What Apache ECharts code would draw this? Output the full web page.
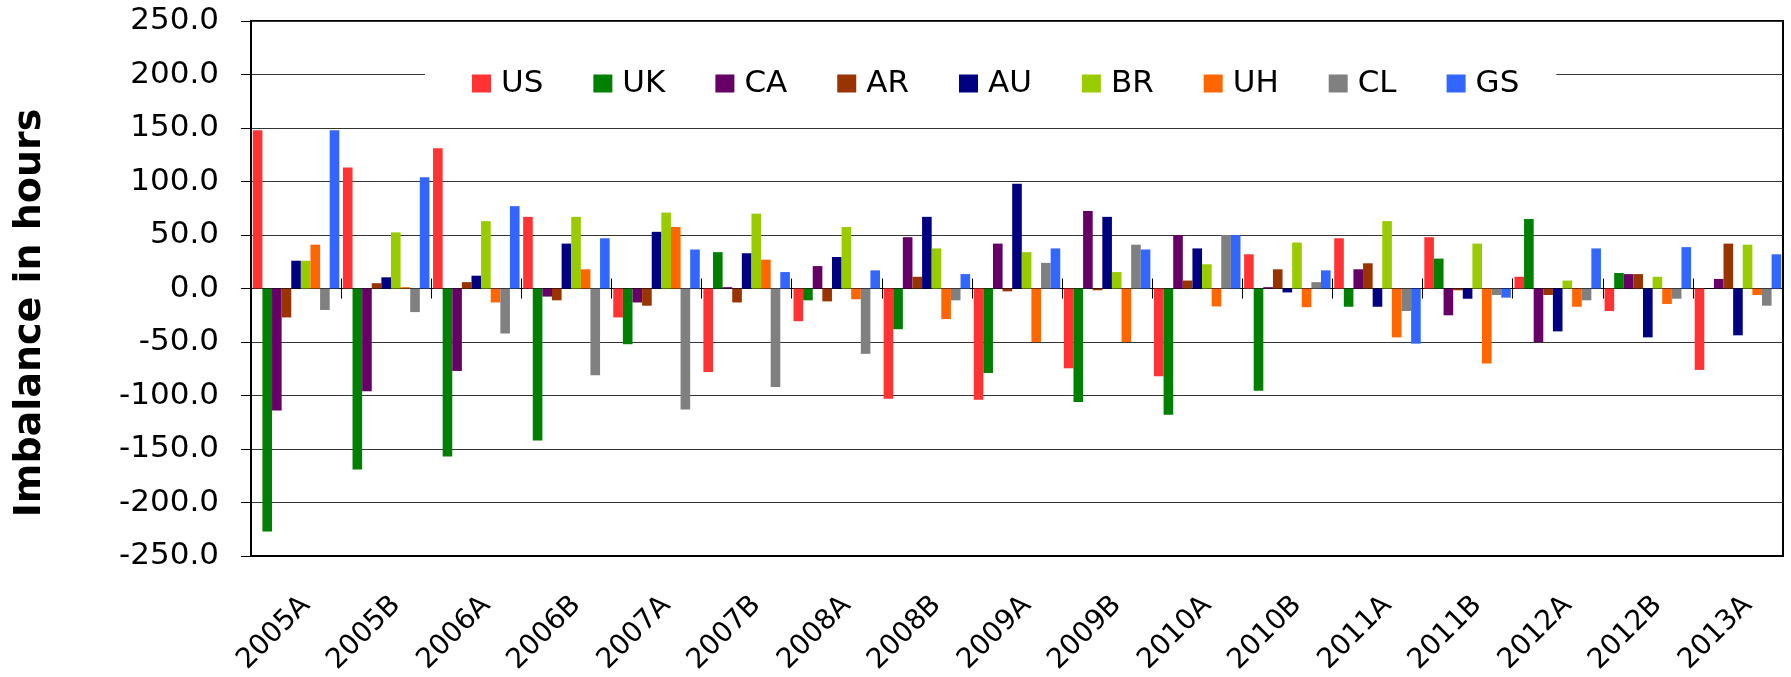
<!DOCTYPE html>
<html>
<head>
<meta charset="utf-8">
<script src="https://cdn.jsdelivr.net/npm/echarts@6/dist/echarts.min.js"></script>
<style>
html,body{margin:0;padding:0;background:#fff;}
#chart{width:1791px;height:677px;}
</style>
</head>
<body>
<div id="chart"></div>
<script>
var categories = ['2005A','2005B','2006A','2006B','2007A','2007B','2008A','2008B','2009A','2009B','2010A','2010B','2011A','2011B','2012A','2012B','2013A'];
var US = [148, 113, 131, 67, -27, -78, -30.5, -103, -104, -74.5, -82, 32, 47, 48, 11, -21, -76];
var UK = [-227, -169, -157, -142, -52, 34, -11, -38, -79, -106, -118, -95.5, -17, 28, 65, 14.5, 0];
var CA = [-114, -96, -77, -7.5, -13, 1.3, 21, 48, 42, 72.5, 50, 1.3, 18, -25, -50, 13.5, 9];
var AR = [-27, 5, 6, -11, -16, -13, -12, 11, -2.6, -1.6, 7.5, 18, 23.6, -1.6, -6, 13.5, 42];
var AU = [26, 10.5, 12, 42, 53, 33, 29.5, 67, 98, 67, 37.5, -3.6, -17, -9.5, -40, -45.6, -43.7];
var BR = [26, 52.5, 63, 67, 71, 70, 57.5, 37.5, 34, 15.4, 22.7, 43, 63, 42, 7.5, 11, 41];
var UH = [41, 1.3, -13, 18, 57.5, 27, -10, -28.5, -50, -50, -16.7, -17.4, -45.6, -70, -17, -14.4, -6];
var CL = [-20, -22, -42, -81, -113, -92, -61, -11, 24, 41, 50, 6, -21, -6, -11, -9.5, -16];
var GS = [148, 104, 77, 47, 36.5, 15.4, 17, 13.5, 37.5, 36.5, 50, 17, -51.5, -8.5, 37.5, 38.7, 32];

var seriesNames = ['US','UK','CA','AR','AU','BR','UH','CL','GS'];
var seriesData = [US, UK, CA, AR, AU, BR, UH, CL, GS];
var colors = ['#ff3333','#008000','#660066','#993300','#000080','#99cc00','#ff6600','#808080','#3366ff'];

var chart = echarts.init(document.getElementById('chart'));
var font = 'DejaVu Sans';

var series = [];
seriesNames.forEach(function (name, i) {
	series.push({
		name: name,
		type: 'bar',
		xAxisIndex: 0,
		barGap: 0,
		barCategoryGap: '4%',
		itemStyle: {color: colors[i]},
		data: seriesData[i]
	});
});

// axis at zero: ticks up and down across the line
var zeroAxis = function (pos) {
	return {
		type: 'category',
		data: categories,
		position: pos,
		axisLine: {onZero: true, onZeroAxisIndex: 0, lineStyle: {color: '#000', width: 1}},
		axisTick: {show: true, length: 10, lineStyle: {color: '#000'}},
		axisLabel: {show: false}
	};
};

var option = {
	animation: false,
	backgroundColor: '#fff',
	color: colors,
	grid: {
		left: 251,
		right: 8,
		top: 21,
		bottom: 114,
		show: true,
		borderColor: '#000',
		borderWidth: 2
	},
	legend: {
		data: seriesNames,
		left: 425,
		top: 58,
		padding: [10, 37, 10, 47],
		backgroundColor: '#fff',
		itemWidth: 19,
		itemHeight: 18,
		itemGap: 50,
		icon: 'rect',
		textStyle: {
			fontFamily: font,
			fontSize: 31,
			color: '#000',
			padding: [0, 0, 0, 5]
		}
	},
	xAxis: [
		{
			type: 'category',
			data: categories,
			position: 'bottom',
			axisLine: {onZero: false, lineStyle: {color: '#000', width: 2}},
			axisTick: {show: false},
			axisLabel: {
				rotate: 45,
				margin: 35,
				align: 'right',
				verticalAlign: 'top',
				fontFamily: font,
				fontSize: 28,
				color: '#000',
				interval: 0
			}
		},
		zeroAxis('top'),
		zeroAxis('bottom')
	],
	yAxis: {
		type: 'value',
		min: -250,
		max: 250,
		interval: 50,
		axisLine: {show: true, lineStyle: {color: '#000', width: 2}},
		axisTick: {show: true, length: 10, lineStyle: {color: '#000'}},
		axisLabel: {
			margin: 32,
			fontFamily: font,
			fontSize: 31,
			color: '#000',
			formatter: function (v) { return v.toFixed(1); }
		},
		splitLine: {lineStyle: {color: '#333', width: 1}}
	},
	graphic: [{
		type: 'text',
		x: 30,
		y: 313,
		rotation: Math.PI / 2,
		style: {
			text: 'Imbalance in hours',
			fontFamily: font,
			fontWeight: 'bold',
			fontSize: 38,
			fill: '#000',
			align: 'center',
			verticalAlign: 'middle'
		}
	}],
	series: series
};
chart.setOption(option);
</script>
</body>
</html>
